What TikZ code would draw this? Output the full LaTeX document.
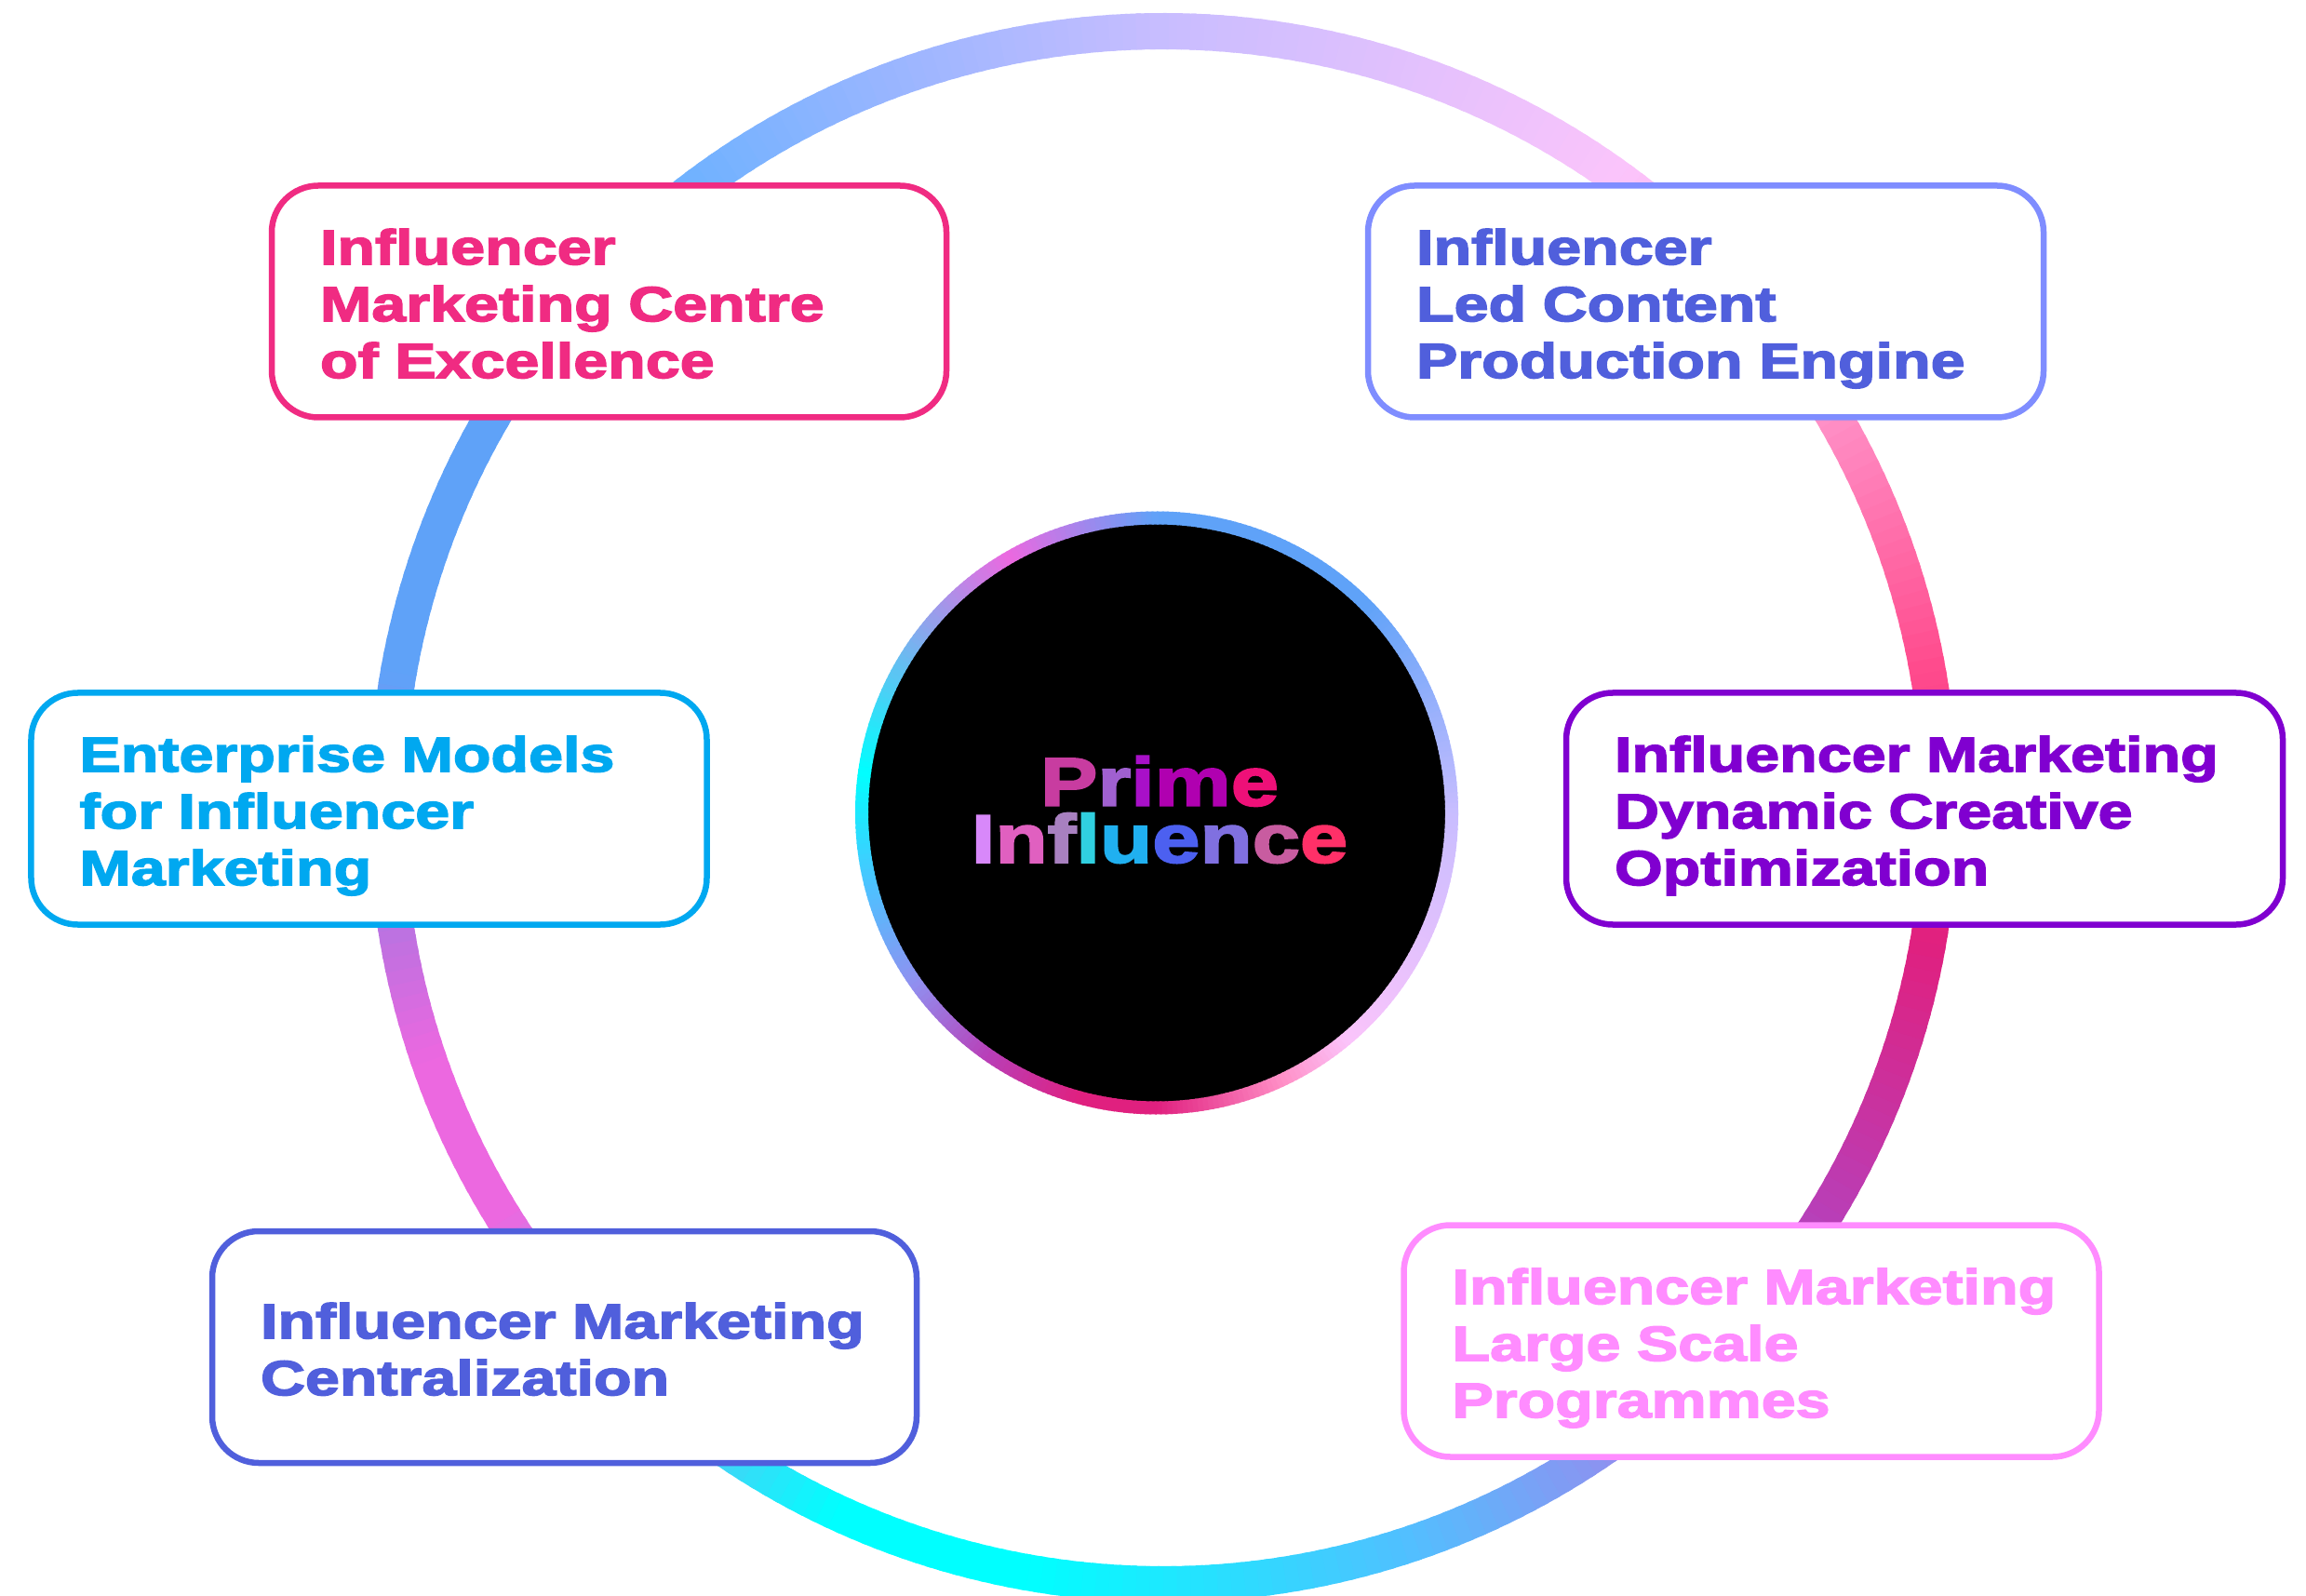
\documentclass[tikz,border=0pt]{standalone}
\usepackage{fontspec}
\newfontfamily\boxfont[FakeStretch=1.26,FakeBold=3,WordSpace=0.7,Ligatures=NoCommon]{Liberation Sans Bold}
\definecolor{rosepink}{HTML}{F02B82}
\definecolor{perilight}{HTML}{7F8DFF}
\definecolor{indigo}{HTML}{505FDC}
\definecolor{violet}{HTML}{8000D0}
\definecolor{skyblue}{HTML}{00A8F0}
\definecolor{orchid}{HTML}{FF8CFF}
\definecolor{gcyan}{HTML}{00FFFF}
\definecolor{gsky}{HTML}{50C0FF}
\definecolor{gblue}{HTML}{5FA2F8}
\definecolor{gazure}{HTML}{70B2FF}
\definecolor{gperi}{HTML}{98B5FF}
\definecolor{glav}{HTML}{C8BDFF}
\definecolor{gblush}{HTML}{FBC4FB}
\definecolor{gsalmon}{HTML}{FF8FC6}
\definecolor{ghot}{HTML}{FF4A8C}
\definecolor{gcrim}{HTML}{E0207F}
\definecolor{gplum}{HTML}{B83FB8}
\definecolor{gmauve}{HTML}{9090F0}
\definecolor{gorchid}{HTML}{EC68E0}
\definecolor{gviolet}{HTML}{C070E0}
\tikzset{
  itembox/.style={fill=white, line width=0.065cm, rounded corners=0.5cm, inner xsep=0.52cm,
    inner ysep=0pt, minimum height=2.49cm, align=left,
    font=\boxfont\fontsize{15}{17.35}\selectfont,
    execute at begin node=\rule{0pt}{15.5pt},
    execute at end node=\rule[-3.5pt]{0pt}{3.5pt}},
  slice/.style={line width=#1, line cap=butt},
}
% sweeps a ring clockwise: centre, radius, width, list of from/to/colour/colour
\newcommand{\ringsweep}[4]{
  \foreach \angfrom/\angto/\cola/\colb in {#4} {
    \pgfmathtruncatemacro{\nslice}{max(1,round((\angfrom-\angto)))}
    \foreach \i in {1,...,\nslice} {
      \pgfmathsetmacro{\ta}{\angfrom-(\i-1)*(\angfrom-\angto)/\nslice}
      \pgfmathsetmacro{\tb}{\angfrom-\i*(\angfrom-\angto)/\nslice-0.4}
      \pgfmathtruncatemacro{\mixp}{round(100*(\i-0.5)/\nslice)}
      \draw[shift={(#1)}, slice=#3, color=\colb!\mixp!\cola] (\ta:#2) arc[start angle=\ta, end angle=\tb, radius=#2];
    }
  }
}
\begin{document}
\begin{tikzpicture}
  \clip (0,0) rectangle (24.78,17.14);
  \coordinate (ringc) at (12.50,8.46);
  \coordinate (discc) at (12.43,8.405);

  % outer ring
  \ringsweep{ringc}{8.345cm}{0.39cm}{
    90/54/glav/gblush, 54/30/gblush/gsalmon, 30/10/gsalmon/ghot, 10/-10/ghot/gcrim,
    -10/-32/gcrim/gplum, -32/-55/gplum/gmauve, -55/-72/gmauve/gsky, -72/-100/gsky/gcyan,
    -100/-115/gcyan/gcyan, -115/-148/gcyan/gorchid, -148/-161/gorchid/gorchid, -161/-170/gorchid/gviolet,
    -170/-190/gviolet/gblue, -190/-210/gblue/gblue, -210/-233/gblue/gazure, -233/-249/gazure/gperi, -249/-270/gperi/glav}

  % inner disc
  \node[circle, fill=black, minimum size=6.34cm, inner sep=0pt] (disc) at (discc) {};
  \ringsweep{discc}{3.17cm}{0.14cm}{
    90/45/gblue/gblue, 45/0/gblue/glav, 0/-50/glav/gblush, -50/-65/gblush/gsalmon,
    -65/-90/gsalmon/gcrim, -90/-105/gcrim/gcrim, -105/-125/gcrim/gplum, -125/-145/gplum/gmauve,
    -145/-165/gmauve/gsky, -165/-188/gsky/gcyan, -188/-240/gcyan/gorchid, -240/-270/gorchid/gblue}

  \node[align=center, inner sep=0pt, font=\boxfont\fontsize{20.8}{17.4}\selectfont] (title) at (12.46,8.44)
    {\textcolor[HTML]{C83CA0}{P}\textcolor[HTML]{A060D0}{r}\textcolor[HTML]{A810C8}{i}\textcolor[HTML]{B000B0}{m}\textcolor[HTML]{EE1078}{e}\\
     \textcolor[HTML]{D888FA}{I}\textcolor[HTML]{E060C0}{n}\textcolor[HTML]{A880C0}{f}\textcolor[HTML]{30D0E0}{l}\textcolor[HTML]{20B0F0}{u}\textcolor[HTML]{4C60F0}{e}\textcolor[HTML]{8070E0}{n}\textcolor[HTML]{C85CA0}{c}\textcolor[HTML]{FF3068}{e}};

  \node[itembox, draw=rosepink, text=rosepink, text width=6.21cm] (centre) at (6.545,13.90)
    {Influencer\\Marketing Centre\\of Excellence};
  \node[itembox, draw=perilight, text=indigo, text width=6.22cm] (engine) at (18.33,13.90)
    {Influencer\\Led Content\\Production Engine};
  \node[itembox, draw=violet, text=violet, text width=6.66cm] (dynamic) at (20.68,8.45)
    {\mbox{Influencer Marketing}\\Dynamic Creative\\Optimization};
  \node[itembox, draw=skyblue, text=skyblue, text width=6.22cm] (models) at (3.965,8.45)
    {Enterprise Models\\for Influencer\\Marketing};
  \node[itembox, draw=indigo, text=indigo, text width=6.53cm] (central) at (6.065,2.665)
    {\mbox{Influencer Marketing}\\Centralization};
  \node[itembox, draw=orchid, text=orchid, text width=6.43cm] (large) at (18.82,2.73)
    {\mbox{Influencer Marketing}\\Large Scale\\Programmes};
\end{tikzpicture}
\end{document}
